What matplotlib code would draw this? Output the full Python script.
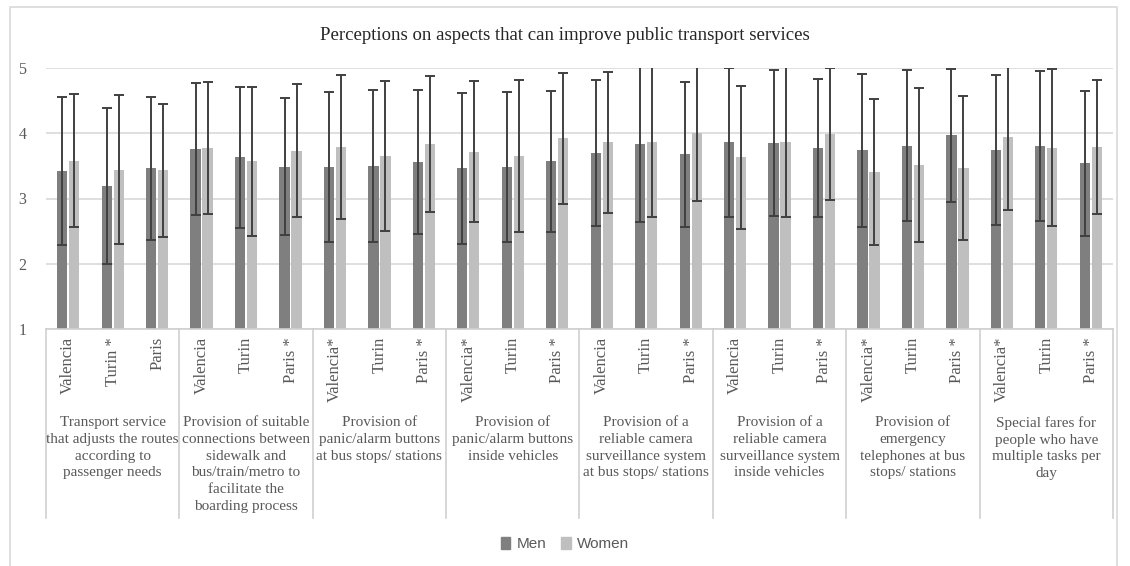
import numpy as np
import matplotlib
matplotlib.use("Agg")
import matplotlib.pyplot as plt
from matplotlib.patches import Patch, Rectangle
from matplotlib.lines import Line2D

# aspects (x-axis groups)
aspects = [
    "Transport service\nthat adjusts the routes\naccording to\npassenger needs",
    "Provision of suitable\nconnections between\nsidewalk and\nbus/train/metro to\nfacilitate the\nboarding process",
    "Provision of\npanic/alarm buttons\nat bus stops/ stations",
    "Provision of\npanic/alarm buttons\ninside vehicles",
    "Provision of a\nreliable camera\nsurveillance system\nat bus stops/ stations",
    "Provision of a\nreliable camera\nsurveillance system\ninside vehicles",
    "Provision of\nemergency\ntelephones at bus\nstops/ stations",
    "Special fares for\npeople who have\nmultiple tasks per\nday",
]

cities = [
    "Valencia", "Turin *", "Paris",
    "Valencia", "Turin", "Paris *",
    "Valencia*", "Turin", "Paris *",
    "Valencia*", "Turin", "Paris *",
    "Valencia", "Turin", "Paris *",
    "Valencia", "Turin", "Paris *",
    "Valencia*", "Turin", "Paris *",
    "Valencia*", "Turin", "Paris *",
]

men_mean = [3.42, 3.19, 3.46, 3.76, 3.63, 3.49, 3.48, 3.50, 3.56, 3.46, 3.48, 3.57,
            3.70, 3.83, 3.68, 3.86, 3.85, 3.77, 3.74, 3.81, 3.97, 3.74, 3.81, 3.54]
men_sd = [1.14, 1.19, 1.09, 1.01, 1.08, 1.05, 1.15, 1.17, 1.10, 1.16, 1.15, 1.08,
          1.12, 1.19, 1.11, 1.14, 1.12, 1.06, 1.17, 1.16, 1.02, 1.15, 1.15, 1.11]
women_mean = [3.58, 3.44, 3.43, 3.77, 3.57, 3.73, 3.79, 3.65, 3.84, 3.72, 3.65, 3.92,
              3.86, 3.87, 4.00, 3.63, 3.87, 3.99, 3.41, 3.52, 3.47, 3.95, 3.78, 3.79]
women_sd = [1.02, 1.14, 1.02, 1.01, 1.14, 1.02, 1.10, 1.15, 1.04, 1.08, 1.17, 1.01,
            1.08, 1.16, 1.04, 1.09, 1.15, 1.01, 1.12, 1.18, 1.10, 1.12, 1.20, 1.02]

men_color = "#7f7f7f"
women_color = "#bfbfbf"
text_color = "#595959"
serif = ["Liberation Serif", "DejaVu Serif"]

fig = plt.figure(figsize=(11.3, 5.66), dpi=100)
ax = fig.add_axes([46 / 1130, 1 - 329 / 566, (1113 - 46) / 1130, (329 - 68) / 566])

x = np.arange(len(cities))
w = 0.23
err_kw = dict(ecolor="#404040", elinewidth=1.4, capsize=3.5, capthick=1.4)
ax.bar(x - 0.135, men_mean, w, yerr=men_sd, color=men_color, error_kw=err_kw, zorder=2)
ax.bar(x + 0.135, women_mean, w, yerr=women_sd, color=women_color, error_kw=err_kw, zorder=2)

ax.set_xlim(-0.5, len(cities) - 0.5)
ax.set_ylim(1, 5)
ax.set_yticks([1, 2, 3, 4, 5])
ax.set_yticklabels(["1", "2", "3", "4", "5"], family=serif, fontsize=11.5, color=text_color)
ax.tick_params(axis="y", length=0, pad=14)
ax.set_xticks([])
ax.yaxis.grid(True, color="#d9d9d9", linewidth=1.2, zorder=0)
ax.set_axisbelow(True)
for s in ["top", "left", "right"]:
    ax.spines[s].set_visible(False)
ax.spines["bottom"].set_color("#d0d0d0")
ax.spines["bottom"].set_linewidth(1.2)

trans = ax.get_xaxis_transform()
ax_h = 329 - 68
for i, c in enumerate(cities):
    ax.text(i, -8 / ax_h, c, rotation=90, ha="center", va="top", transform=trans,
            family=serif, fontsize=12, color=text_color)

n_groups = len(aspects)
for g in range(n_groups + 1):
    ax.add_line(Line2D([g * 3 - 0.5, g * 3 - 0.5], [0, -(518 - 329) / ax_h], transform=trans,
                       color="#d0d0d0", linewidth=1.2, clip_on=False))

for g, a in enumerate(aspects):
    ax.text(g * 3 + 1, -(416 - 329) / ax_h, a, ha="center", va="top", multialignment="center",
            transform=trans, family=serif, fontsize=11, color=text_color, linespacing=1.38)

fig.text(0.5, 1 - 35 / 566, "Perceptions on aspects that can improve public transport services",
         ha="center", va="center", family=serif, fontsize=13.5, color="#262626")

handles = [Patch(color=men_color, label="Men"), Patch(color=women_color, label="Women")]
fig.legend(handles=handles, loc="center", bbox_to_anchor=(0.5, 1 - 544 / 566), ncol=2,
           frameon=False, handlelength=0.6, handleheight=0.9, handletextpad=0.4,
           columnspacing=1.0, prop={"family": ["Liberation Sans Narrow", "Liberation Sans"], "size": 11},
           labelcolor=text_color)

fig.patches.append(Rectangle((10 / 1130, -0.02), 1 - 13 / 1130 - 10 / 1130, 1.02 - 7 / 566,
                             transform=fig.transFigure, fill=False, edgecolor="#d9d9d9", linewidth=1.2))

fig.savefig("out.png", dpi=100)
